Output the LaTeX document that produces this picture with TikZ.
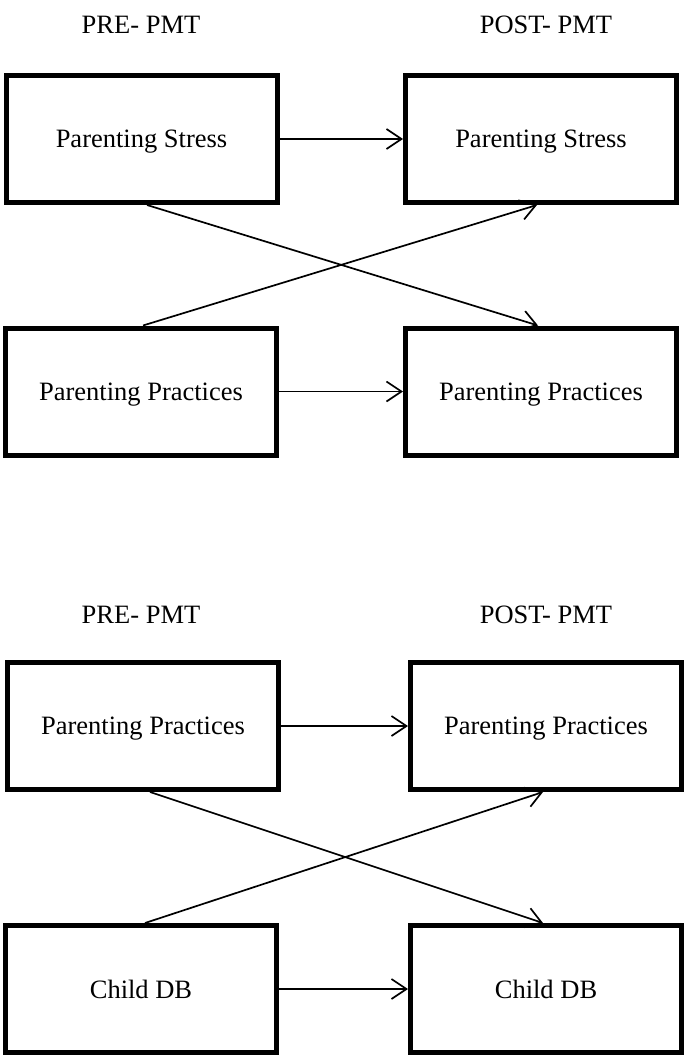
\documentclass[tikz,border=0pt]{standalone}
\usepackage{fontspec}
\setmainfont{Liberation Serif}
\usetikzlibrary{arrows.meta}
\begin{document}
\begin{tikzpicture}[x=1pt,y=-1pt,
  box/.style={draw, line width=5pt, rectangle, inner sep=0pt,
    minimum width=271pt, minimum height=127pt, text depth=0pt,
    font=\fontsize{26.5}{30}\selectfont},
  hdr/.style={anchor=base, font=\fontsize{26.5}{30}\selectfont},
  link/.style={line width=1.7pt, -{Straight Barb[length=15pt,width=20pt,line width=1.7pt]}}]
\useasboundingbox (0,0) rectangle (686,1057);
% top diagram
\node[hdr] (h1) at (141,34) {PRE- PMT};
\node[hdr] (h2) at (546,34) {POST- PMT};
\node[box] (a1) at (141.5,139) {Parenting Stress};
\node[box] (a2) at (541,139) {Parenting Stress};
\node[box] (a3) at (141,391.5) {Parenting Practices};
\node[box] (a4) at (541,391.5) {Parenting Practices};
\draw[link] (a1) -- (a2);
\draw[link] (a3) -- (a4);
\draw[link] ([xshift=5.5pt]a1.south) -- ([xshift=-3pt]a4.north);
\draw[link] ([xshift=2pt]a3.north) -- ([xshift=-4pt]a2.south);
% bottom diagram
\node[hdr] (h3) at (141,623) {PRE- PMT};
\node[hdr] (h4) at (546,623) {POST- PMT};
\node[box] (b1) at (143,726) {Parenting Practices};
\node[box] (b2) at (546,726) {Parenting Practices};
\node[box] (b3) at (141,989) {Child DB};
\node[box] (b4) at (546,989) {Child DB};
\draw[link] (b1) -- (b2);
\draw[link] (b3) -- (b4);
\draw[link] ([xshift=7pt]b1.south) -- ([xshift=-3pt]b4.north);
\draw[link] ([xshift=4pt]b3.north) -- ([xshift=-3pt]b2.south);
\end{tikzpicture}
\end{document}
